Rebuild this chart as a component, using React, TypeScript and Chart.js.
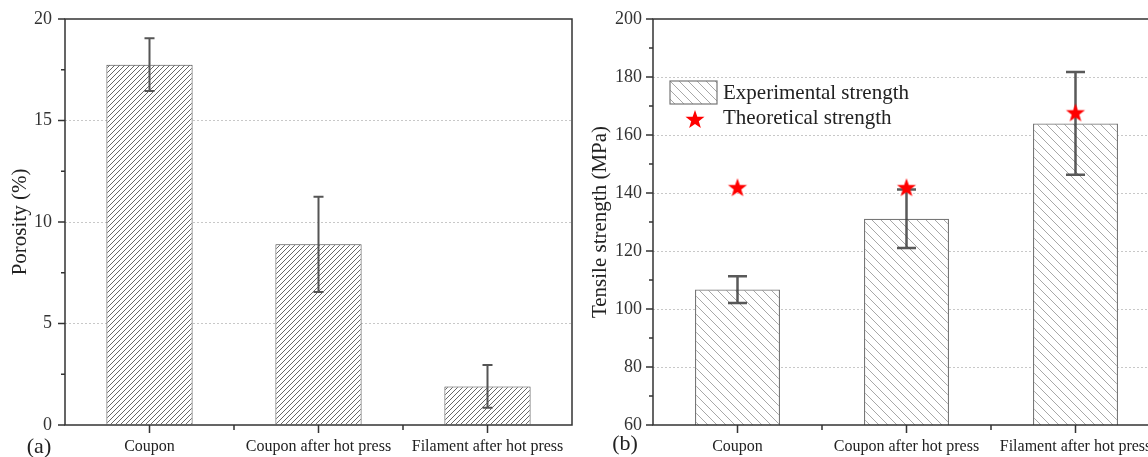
import React, { useEffect, useRef } from 'react';
import { Chart, registerables } from 'chart.js';
Chart.register(...registerables);

const categories = ['Coupon', 'Coupon after hot press', 'Filament after hot press'];

const porosity = [17.75, 8.9, 1.9];
const porosityError = [1.3, 2.35, 1.05];
const porosityTicks = [0, 5, 10, 15, 20];
const porosityMinorTicks = [2.5, 7.5, 12.5, 17.5];

const strength = [106.7, 131.1, 164];
const strengthError = [4.6, 10.1, 17.7];
const theoretical = [142, 142, 167.8];
const strengthTicks = [60, 80, 100, 120, 140, 160, 180, 200];
const strengthMinorTicks = [70, 90, 110, 130, 150, 170, 190];

const FONT = "'Liberation Serif', 'Times New Roman', serif";
Chart.defaults.font.family = FONT;

function makeHatch(size: number, color: string, lw: number, dir: '/' | '\\') {
  const c = document.createElement('canvas');
  c.width = size;
  c.height = size;
  const g = c.getContext('2d')!;
  g.fillStyle = '#ffffff';
  g.fillRect(0, 0, size, size);
  g.strokeStyle = color;
  g.lineWidth = lw;
  g.beginPath();
  if (dir === '/') {
    g.moveTo(0, size); g.lineTo(size, 0);
    g.moveTo(-1, 1); g.lineTo(1, -1);
    g.moveTo(size - 1, size + 1); g.lineTo(size + 1, size - 1);
  } else {
    g.moveTo(0, 0); g.lineTo(size, size);
    g.moveTo(-1, size - 1); g.lineTo(1, size + 1);
    g.moveTo(size - 1, -1); g.lineTo(size + 1, 1);
  }
  g.stroke();
  return document.createElement('canvas').getContext('2d')!.createPattern(c, 'repeat')!;
}

function makeStar(R: number, color: string) {
  const s = Math.ceil(R * 2 + 2);
  const c = document.createElement('canvas');
  c.width = s;
  c.height = s;
  const g = c.getContext('2d')!;
  const cx = s / 2;
  const cy = s / 2 + R * 0.095;
  const r = R * 0.4;
  g.fillStyle = color;
  g.beginPath();
  for (let i = 0; i < 10; i++) {
    const rad = i % 2 === 0 ? R : r;
    const ang = -Math.PI / 2 + (i * Math.PI) / 5;
    const px = cx + rad * Math.cos(ang);
    const py = cy + rad * Math.sin(ang);
    if (i === 0) g.moveTo(px, py); else g.lineTo(px, py);
  }
  g.closePath();
  g.fill();
  return c;
}

type OverlayOpts = {
  key: string;
  values: number[];
  errors: number[];
  errColor: string;
  errWidth: number;
  cap: number;
  majorY: number[];
  minorY: number[];
  panel: string;
  panelX: number;
  panelY: number;
  legend?: { hatch: CanvasPattern; star: HTMLCanvasElement };
};

function overlay(o: OverlayOpts) {
  return {
    id: 'overlay_' + o.key,
    afterDatasetDraw(chart: any, args: any) {
      if (args.index !== 0) return;
      const { ctx } = chart;
      const x = chart.scales.x;
      const y = chart.scales.y;
      ctx.save();
      ctx.strokeStyle = o.errColor;
      ctx.lineWidth = o.errWidth;
      o.values.forEach((v, i) => {
        const e = o.errors[i];
        const px = x.getPixelForValue(i);
        const top = y.getPixelForValue(v + e);
        const bot = y.getPixelForValue(v - e);
        ctx.beginPath();
        ctx.moveTo(px, top); ctx.lineTo(px, bot);
        ctx.moveTo(px - o.cap / 2, top); ctx.lineTo(px + o.cap / 2, top);
        ctx.moveTo(px - o.cap / 2, bot); ctx.lineTo(px + o.cap / 2, bot);
        ctx.stroke();
      });
      ctx.restore();
    },
    afterDraw(chart: any) {
      const { ctx, chartArea: a } = chart;
      const x = chart.scales.x;
      const y = chart.scales.y;
      ctx.save();
      ctx.strokeStyle = '#333';
      ctx.lineWidth = 1.5;
      ctx.strokeRect(a.left, a.top, a.right - a.left, a.bottom - a.top);
      ctx.beginPath();
      o.majorY.forEach((v) => {
        const py = y.getPixelForValue(v);
        ctx.moveTo(a.left - 7, py); ctx.lineTo(a.left, py);
      });
      o.minorY.forEach((v) => {
        const py = y.getPixelForValue(v);
        ctx.moveTo(a.left - 4, py); ctx.lineTo(a.left, py);
      });
      const n = chart.data.labels.length;
      for (let i = 0; i < n; i++) {
        const px = x.getPixelForValue(i);
        ctx.moveTo(px, a.bottom); ctx.lineTo(px, a.bottom + 8);
      }
      for (let i = 0; i < n - 1; i++) {
        const px = (x.getPixelForValue(i) + x.getPixelForValue(i + 1)) / 2;
        ctx.moveTo(px, a.bottom); ctx.lineTo(px, a.bottom + 5);
      }
      ctx.stroke();

      ctx.fillStyle = '#222';
      ctx.font = `22px ${FONT}`;
      ctx.textAlign = 'center';
      ctx.textBaseline = 'middle';
      ctx.fillText(o.panel, o.panelX, o.panelY);

      if (o.legend) {
        const bx = a.left + 17;
        const by = a.top + 62;
        ctx.fillStyle = o.legend.hatch;
        ctx.fillRect(bx, by, 47, 23);
        ctx.strokeStyle = '#777';
        ctx.lineWidth = 1.2;
        ctx.strokeRect(bx, by, 47, 23);
        const st = o.legend.star;
        ctx.drawImage(st, a.left + 42 - st.width / 2, a.top + 100 - st.height / 2);
        ctx.fillStyle = '#222';
        ctx.font = `21px ${FONT}`;
        ctx.textAlign = 'left';
        ctx.textBaseline = 'middle';
        ctx.fillText('Experimental strength', a.left + 70, a.top + 74);
        ctx.fillText('Theoretical strength', a.left + 70, a.top + 99);
      }
      ctx.restore();
    },
  };
}

function gridColor(min: number, max: number) {
  return (c: any) => {
    const v = c.tick ? c.tick.value : null;
    if (v === null || v === min || v === max) return 'rgba(0,0,0,0)';
    return '#c8c8c8';
  };
}

function fitX(s: any) {
  s.height = 32;
  s.paddingLeft = 0;
  s.paddingRight = 0;
}

function fitY(w: number) {
  return (s: any) => {
    s.width = w;
    s.paddingTop = 0;
    s.paddingBottom = 0;
  };
}

export default function App() {
  const leftRef = useRef<HTMLCanvasElement>(null);
  const rightRef = useRef<HTMLCanvasElement>(null);

  useEffect(() => {
    const hatchL = makeHatch(5, '#555', 0.9, '/');
    const hatchR = makeHatch(9, '#a8a8a8', 1, '\\');
    const star = makeStar(10, '#ff0000');

    const left = new Chart(leftRef.current!, {
      type: 'bar',
      data: {
        labels: categories,
        datasets: [
          {
            data: porosity,
            backgroundColor: hatchL,
            borderColor: '#444',
            borderWidth: 1,
            barPercentage: 1,
            categoryPercentage: 0.51,
          },
        ],
      },
      options: {
        animation: false,
        responsive: false,
        layout: { autoPadding: false, padding: { left: 0, top: 19, right: 8, bottom: 0 } },
        plugins: { legend: { display: false }, tooltip: { enabled: false } },
        scales: {
          x: {
            grid: { display: false, drawTicks: false },
            border: { display: false },
            ticks: { padding: 12, font: { size: 16 }, color: '#222', maxRotation: 0, autoSkip: false },
            afterFit: fitX,
          },
          y: {
            min: 0,
            max: 20,
            afterBuildTicks: (s: any) => { s.ticks = porosityTicks.map((v) => ({ value: v })); },
            ticks: { padding: 13, font: { size: 18 }, color: '#333' },
            grid: { color: gridColor(0, 20), drawTicks: false, lineWidth: 1 },
            border: { display: false, dash: [2, 2] },
            title: { display: true, text: 'Porosity (%)', font: { size: 21 }, color: '#222', padding: { top: 8, bottom: 0 } },
            afterFit: fitY(65),
          },
        },
      },
      plugins: [
        overlay({
          key: 'l',
          values: porosity,
          errors: porosityError,
          errColor: '#555',
          errWidth: 2,
          cap: 10,
          majorY: porosityTicks,
          minorY: porosityMinorTicks,
          panel: '(a)',
          panelX: 39,
          panelY: 447,
        }),
      ],
    } as any);

    const right = new Chart(rightRef.current!, {
      type: 'bar',
      data: {
        labels: categories,
        datasets: [
          {
            type: 'bar',
            label: 'Experimental strength',
            data: strength,
            backgroundColor: hatchR,
            borderColor: '#777',
            borderWidth: 1.3,
            barPercentage: 1,
            categoryPercentage: 0.503,
            order: 1,
          },
          {
            type: 'line',
            label: 'Theoretical strength',
            data: theoretical,
            showLine: false,
            pointStyle: star,
            pointRadius: 10,
            borderColor: '#ff0000',
            backgroundColor: '#ff0000',
            clip: false,
            order: 0,
          },
        ],
      },
      options: {
        animation: false,
        responsive: false,
        layout: { autoPadding: false, padding: { left: 0, top: 19, right: 0, bottom: 0 } },
        plugins: { legend: { display: false }, tooltip: { enabled: false } },
        scales: {
          x: {
            offset: true,
            grid: { display: false, drawTicks: false },
            border: { display: false },
            ticks: { padding: 12, font: { size: 16 }, color: '#222', maxRotation: 0, autoSkip: false },
            afterFit: fitX,
          },
          y: {
            min: 60,
            max: 200,
            afterBuildTicks: (s: any) => { s.ticks = strengthTicks.map((v) => ({ value: v })); },
            ticks: { padding: 11, font: { size: 18 }, color: '#333' },
            grid: { color: gridColor(60, 200), drawTicks: false, lineWidth: 1 },
            border: { display: false, dash: [2, 2] },
            title: { display: true, text: 'Tensile strength (MPa)', font: { size: 21 }, color: '#222', padding: { top: 8, bottom: 0 } },
            afterFit: fitY(73),
          },
        },
      },
      plugins: [
        overlay({
          key: 'r',
          values: strength,
          errors: strengthError,
          errColor: 'rgba(60,60,60,0.85)',
          errWidth: 2.5,
          cap: 19,
          majorY: strengthTicks,
          minorY: strengthMinorTicks,
          panel: '(b)',
          panelX: 45,
          panelY: 444,
          legend: { hatch: hatchR, star },
        }),
      ],
    } as any);

    return () => {
      left.destroy();
      right.destroy();
    };
  }, []);

  return (
    <div
      style={{
        position: 'fixed',
        left: 0,
        top: 0,
        width: 1148,
        height: 457,
        overflow: 'hidden',
        background: '#ffffff',
      }}
    >
      <canvas
        ref={leftRef}
        width={580}
        height={457}
        style={{ position: 'absolute', left: 0, top: 0, width: 580, height: 457 }}
      />
      <canvas
        ref={rightRef}
        width={580}
        height={457}
        style={{ position: 'absolute', left: 580, top: 0, width: 580, height: 457 }}
      />
    </div>
  );
}
